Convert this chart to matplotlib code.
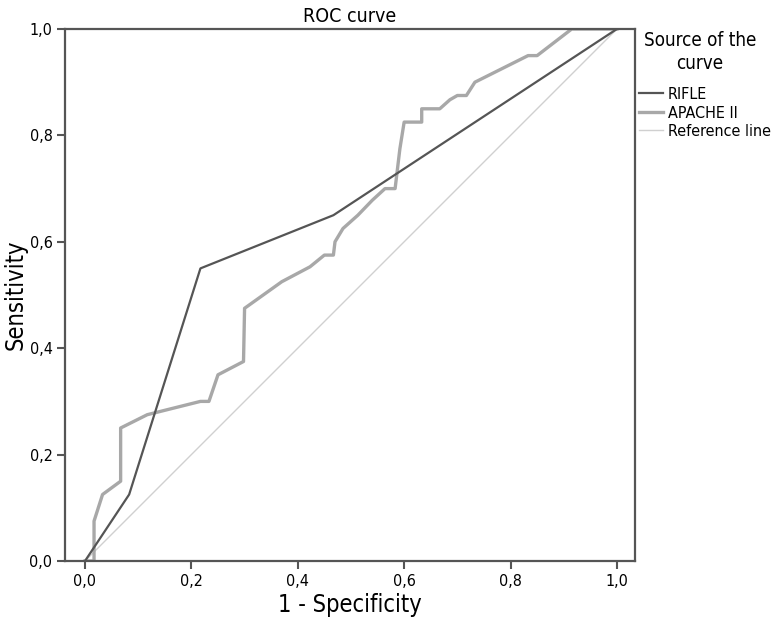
import matplotlib
matplotlib.use('Agg')
import matplotlib.pyplot as plt
from matplotlib.ticker import FuncFormatter

plt.rcParams['font.family'] = ['DejaVu Sans']
plt.rcParams['font.stretch'] = 'condensed'

# RIFLE curve points (1 - specificity, sensitivity)
rifle_x = [0.0, 0.083, 0.217, 0.467, 1.0]
rifle_y = [0.0, 0.125, 0.55, 0.65, 1.0]

# APACHE II curve points
apache_x = [0.0, 0.017, 0.017, 0.033, 0.067, 0.067, 0.117, 0.217, 0.233, 0.25,
            0.298, 0.3, 0.37, 0.423, 0.45, 0.467, 0.47, 0.485, 0.513, 0.54,
            0.564, 0.583, 0.592, 0.6, 0.633, 0.633, 0.667, 0.686, 0.7, 0.717,
            0.733, 0.833, 0.85, 0.915, 1.0]
apache_y = [0.0, 0.0, 0.075, 0.125, 0.15, 0.25, 0.275, 0.3, 0.3, 0.35,
            0.375, 0.475, 0.525, 0.553, 0.575, 0.575, 0.6, 0.625, 0.65, 0.678,
            0.7, 0.7, 0.775, 0.825, 0.825, 0.85, 0.85, 0.867, 0.875, 0.875,
            0.9, 0.95, 0.95, 1.0, 1.0]

ref_x = [0.0, 1.0]
ref_y = [0.0, 1.0]

ticks = [0.0, 0.2, 0.4, 0.6, 0.8, 1.0]

fig = plt.figure(figsize=(7.71, 6.21), dpi=100)
ax = fig.add_axes([65 / 771, 1 - 561 / 621, 570 / 771, 532 / 621])

ax.plot(rifle_x, rifle_y, color='#555555', lw=1.6, label='RIFLE', zorder=3)
ax.plot(apache_x, apache_y, color='#a8a8a8', lw=2.4, label='APACHE II', zorder=2)
ax.plot(ref_x, ref_y, color='#d0d0d0', lw=1.0, label='Reference line', zorder=1)

ax.set_xlim(-0.0376, 1.034)
ax.set_ylim(0, 1.0)
ax.set_xticks(ticks)
ax.set_yticks(ticks)
fmt = FuncFormatter(lambda v, p: f'{v:.1f}'.replace('.', ','))
ax.xaxis.set_major_formatter(fmt)
ax.yaxis.set_major_formatter(fmt)
ax.tick_params(direction='out', length=6, width=1.5, color='#555555',
               labelsize=11.5, pad=3)

for s in ax.spines.values():
    s.set_color('#555555')
    s.set_linewidth(1.6)

ax.set_title('ROC curve', fontsize=14, pad=5)
ax.set_xlabel('1 - Specificity', fontsize=17, labelpad=3)
ax.set_ylabel('Sensitivity', fontsize=17, labelpad=1)

# legend title drawn separately, entries below it
fig.text(700 / 771, 1 - 52 / 621, 'Source of the\ncurve', ha='center',
         va='center', fontsize=13.5, linespacing=1.3)
ax.legend(loc='upper left', bbox_to_anchor=(639 / 771, 1 - 87 / 621),
          bbox_transform=fig.transFigure, frameon=False,
          fontsize=11.5, handlelength=1.5, handletextpad=0.3,
          labelspacing=0.22, borderaxespad=0, borderpad=0)

plt.savefig('out.png', dpi=100)
